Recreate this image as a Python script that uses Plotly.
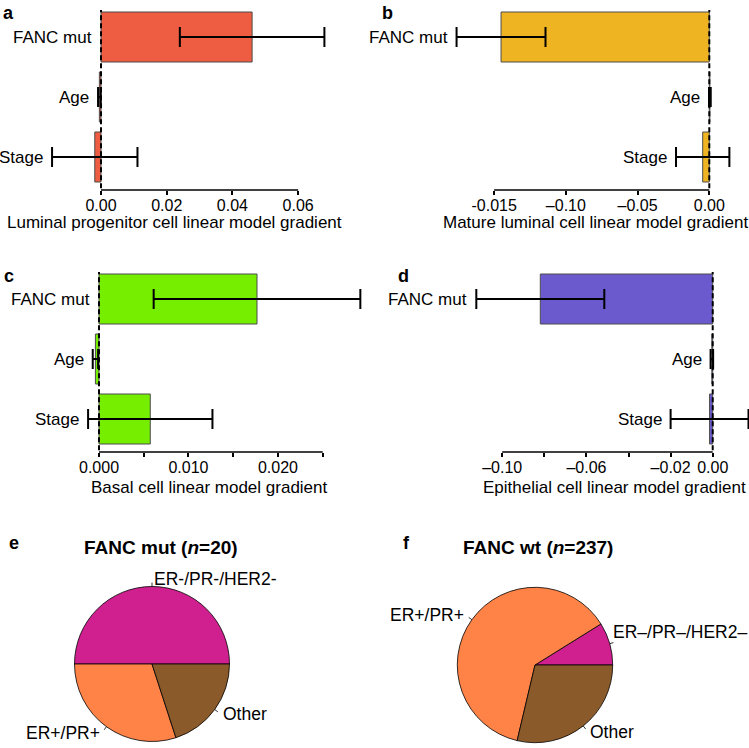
import math
import plotly.graph_objects as go

W, H = 749, 748

# ---------------- data ----------------
features = ["FANC mut", "Age", "Stage"]

lp_grad = [0.0460, -0.0005, -0.0019]      # luminal progenitor
lp_err = [0.0220, 0.0004, 0.0130]
ml_grad = [-0.1452, 0.0004, -0.0046]      # mature luminal
ml_err = [0.0310, 0.0006, 0.0186]
basal_grad = [0.01766, -0.0004, 0.00573]  # basal
basal_err = [0.01155, 0.0003, 0.00695]
epi_grad = [-0.0819, -0.0004, -0.0015]    # epithelial
epi_err = [0.0304, 0.0006, 0.0185]

lp_ticks = [0.0, 0.02, 0.04, 0.06]
lp_ticktext = ["0.00", "0.02", "0.04", "0.06"]
ml_ticks = [-0.15, -0.10, -0.05, 0.0]
ml_ticktext = ["-0.015", "–0.10", "–0.05", "0.00"]
basal_ticks = [0.0, 0.005, 0.010, 0.015, 0.020, 0.025]
basal_ticktext = ["0.000", "", "0.010", "", "0.020", ""]
epi_ticks = [-0.10, -0.08, -0.06, -0.04, -0.02, 0.0]
epi_ticktext = ["–0.10", "", "–0.06", "", "–0.02", "0.00"]

mut_subtypes = ["ER-/PR-/HER2-", "ER+/PR+", "Other"]
mut_counts = [10, 6, 4]
wt_subtypes = ["ER–/PR–/HER2–", "ER+/PR+", "Other"]
wt_counts = [21, 148, 68]
pie_colors = ["#D02090", "#FF8247", "#8B5A2B"]

FONT = "Liberation Sans, Arial, Helvetica, sans-serif"


def fx(p):
    return p / W


def fy(p):
    return 1 - p / H


fig = go.Figure()

panels = [
    dict(grad=lp_grad, err=lp_err, color="#EE5C42", xdom=(45, 340), ydom=(10, 190),
         xrange=(-0.01705, 0.07275), tickvals=lp_ticks, ticktext=lp_ticktext,
         title="Luminal progenitor cell linear model gradient", title_xy=(174.5, 222),
         letter="a", letter_xy=(1, 13)),
    dict(grad=ml_grad, err=ml_err, color="#EEB422", xdom=(420, 749), ydom=(10, 190),
         xrange=(-0.2017, 0.02768), tickvals=ml_ticks, ticktext=ml_ticktext,
         title="Mature luminal cell linear model gradient", title_xy=(595.5, 222),
         letter="b", letter_xy=(380, 13)),
    dict(grad=basal_grad, err=basal_err, color="#76EE00", xdom=(45, 370), ydom=(272, 452),
         xrange=(-0.006036, 0.03029), tickvals=basal_ticks, ticktext=basal_ticktext,
         title="Basal cell linear model gradient", title_xy=(210, 487),
         letter="c", letter_xy=(2, 276)),
    dict(grad=epi_grad, err=epi_err, color="#6A5ACD", xdom=(420, 749), ydom=(272, 452),
         xrange=(-0.13905, 0.01724), tickvals=epi_ticks, ticktext=epi_ticktext,
         title="Epithelial cell linear model gradient", title_xy=(614.5, 487),
         letter="d", letter_xy=(396, 276)),
]

annotations = []
shapes = []
layout_axes = {}

for i, p in enumerate(panels):
    ax = "" if i == 0 else str(i + 1)
    fig.add_trace(go.Bar(
        x=p["grad"], y=features, orientation="h",
        xaxis="x" + ax, yaxis="y" + ax,
        marker=dict(color=p["color"], line=dict(color="#4d4d4d", width=1)),
        width=0.8333,
        error_x=dict(type="data", array=p["err"], color="black", thickness=2, width=10),
        showlegend=False, hoverinfo="skip",
    ))
    layout_axes["xaxis" + ax] = dict(
        domain=[fx(p["xdom"][0]), fx(p["xdom"][1])],
        range=list(p["xrange"]), anchor="y" + ax,
        tickmode="array", tickvals=p["tickvals"], ticktext=p["ticktext"],
        ticks="outside", ticklen=4, tickwidth=1.5, tickcolor="black",
        ticklabelstandoff=-3,
        showline=False, showgrid=False, zeroline=False,
        tickfont=dict(size=16, color="black", family=FONT),
    )
    layout_axes["yaxis" + ax] = dict(
        domain=[fy(p["ydom"][1]), fy(p["ydom"][0])],
        anchor="x" + ax, type="category",
        categoryorder="array", categoryarray=features[::-1],
        range=[-0.55, 2.45],
        showticklabels=False, ticks="", showline=False, showgrid=False, zeroline=False,
    )
    # axis line from first to last tick (R style)
    shapes.append(dict(type="line", xref="x" + ax, yref="y" + ax + " domain",
                       x0=p["tickvals"][0], x1=p["tickvals"][-1], y0=0, y1=0,
                       line=dict(color="black", width=1.5)))
    # dashed zero line
    shapes.append(dict(type="line", xref="x" + ax, yref="y" + ax + " domain",
                       x0=0, x1=0, y0=0.01, y1=1, layer="above",
                       line=dict(color="black", width=2, dash="5px,3px")))
    # feature labels beside bars
    for f, g, e in zip(features, p["grad"], p["err"]):
        annotations.append(dict(
            x=min(0, g - e), y=f, xref="x" + ax, yref="y" + ax,
            text=f, showarrow=False, xanchor="right", yanchor="middle", xshift=-7,
            font=dict(size=17, color="black", family=FONT)))
    annotations.append(dict(
        x=fx(p["title_xy"][0]), y=fy(p["title_xy"][1]), xref="paper", yref="paper",
        text=p["title"], showarrow=False, xanchor="center", yanchor="middle",
        font=dict(size=17, color="black", family=FONT)))
    annotations.append(dict(
        x=fx(p["letter_xy"][0]), y=fy(p["letter_xy"][1]), xref="paper", yref="paper",
        text="<b>" + p["letter"] + "</b>", showarrow=False, xanchor="left", yanchor="middle",
        font=dict(size=18, color="black", family=FONT)))

# ---------------- pies ----------------
pies = [
    dict(labels=mut_subtypes, values=mut_counts, center=(152, 664), r=77.5,
         title="<b>FANC mut (<i>n</i>=20)</b>", title_xy=(161, 547),
         letter="e", letter_xy=(7, 543), nudge=[(0, 0), (0, 0), (0, 0)]),
    dict(labels=wt_subtypes, values=wt_counts, center=(535, 665), r=77.7,
         title="<b>FANC wt (<i>n</i>=237)</b>", title_xy=(538, 547),
         letter="f", letter_xy=(401, 543), nudge=[(-6, -10), (0, 0), (0, 0)]),
]

for p in pies:
    cx, cy = p["center"]
    r = p["r"]
    total = sum(p["values"])
    # R pie(): first slice starts at 3 o'clock and runs counter-clockwise.
    # Plotly (counterclockwise) puts slice 0 clockwise of `rotation`, so shift by it.
    rot = 90 - 360.0 * p["values"][0] / total
    fig.add_trace(go.Pie(
        labels=p["labels"], values=p["values"], sort=False,
        direction="counterclockwise", rotation=rot, textinfo="none",
        marker=dict(colors=pie_colors, line=dict(color="black", width=0.8)),
        domain=dict(x=[fx(cx - r), fx(cx + r)], y=[fy(cy + r), fy(cy - r)]),
        showlegend=False, hoverinfo="skip",
    ))
    cum = 0
    for lab, v, nd in zip(p["labels"], p["values"], p["nudge"]):
        mid = (cum + v / 2) / total * 2 * math.pi
        cum += v
        c, s = math.cos(mid), math.sin(mid)
        shapes.append(dict(type="line", xref="paper", yref="paper",
                           x0=fx(cx + c * r), y0=fy(cy - s * r),
                           x1=fx(cx + c * r * 1.05), y1=fy(cy - s * r * 1.05),
                           line=dict(color="black", width=0.8)))
        annotations.append(dict(
            x=fx(cx + c * r * 1.1 + nd[0]), y=fy(cy - s * r * 1.1 + nd[1]),
            xref="paper", yref="paper",
            text=lab, showarrow=False, xanchor="left" if c >= 0 else "right",
            yanchor="middle", font=dict(size=17.5, color="black", family=FONT)))
    annotations.append(dict(
        x=fx(p["title_xy"][0]), y=fy(p["title_xy"][1]), xref="paper", yref="paper",
        text=p["title"], showarrow=False, xanchor="center", yanchor="middle",
        font=dict(size=19, color="black", family=FONT)))
    annotations.append(dict(
        x=fx(p["letter_xy"][0]), y=fy(p["letter_xy"][1]), xref="paper", yref="paper",
        text="<b>" + p["letter"] + "</b>", showarrow=False, xanchor="left", yanchor="middle",
        font=dict(size=18, color="black", family=FONT)))

fig.update_layout(
    width=W, height=H,
    margin=dict(l=0, r=0, t=0, b=0),
    paper_bgcolor="white", plot_bgcolor="white",
    font=dict(family=FONT, color="black"),
    barmode="overlay",
    annotations=annotations, shapes=shapes,
    **layout_axes,
)

fig.write_html("out.html",
               config={"displayModeBar": False},
               post_script="document.body.style.margin='0px';document.body.style.overflow='hidden';")
